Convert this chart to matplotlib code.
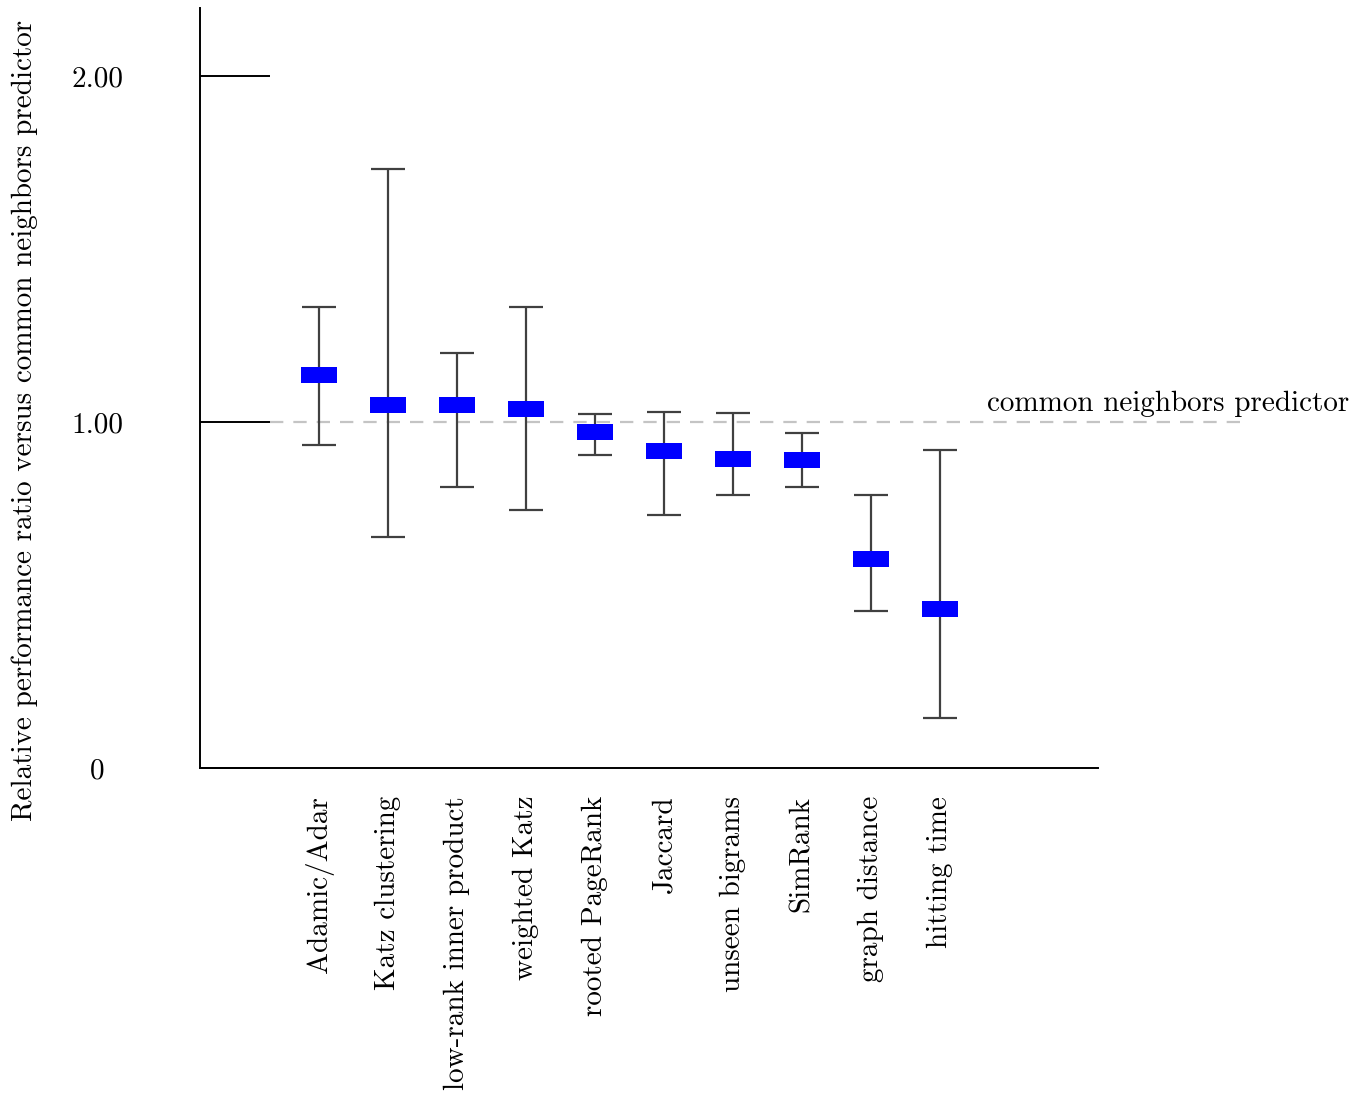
import matplotlib.pyplot as plt
import numpy as np

plt.rcParams['font.family'] = 'cmr10'
plt.rcParams['axes.formatter.use_mathtext'] = True

# ---- data ----
methods = ["Adamic/Adar", "Katz clustering", "low-rank inner product", "weighted Katz",
           "rooted PageRank", "Jaccard", "unseen bigrams", "SimRank",
           "graph distance", "hitting time"]
ratio_mid = [1.136, 1.049, 1.049, 1.038, 0.971, 0.916, 0.893, 0.890, 0.604, 0.460]
ratio_high = [1.332, 1.731, 1.199, 1.332, 1.023, 1.029, 1.026, 0.968, 0.789, 0.919]
ratio_low = [0.934, 0.668, 0.812, 0.746, 0.905, 0.731, 0.789, 0.812, 0.454, 0.145]
baseline = 1.0
baseline_label = "common neighbors predictor"
ylabel = "Relative performance ratio versus common neighbors predictor"

x = np.arange(len(methods))
mid = np.array(ratio_mid)
hi = np.array(ratio_high)
lo = np.array(ratio_low)

fig = plt.figure(figsize=(13.69, 10.96), dpi=100)
ax = fig.add_axes([200/1369, 1 - 768/1096, 898/1369, 760/1096])

# baseline dashed line (extends past the axes)
ax.plot([-0.71, 13.35], [baseline, baseline], color='#c4c4c4', lw=1.6,
        dashes=(6, 4.5), clip_on=False, zorder=1)
ax.text(9.68, baseline + 0.032, baseline_label, fontsize=21, va='baseline', ha='left')

# error bars
ax.errorbar(x, mid, yerr=[mid - lo, hi - mid], fmt='none', ecolor='#404040',
            elinewidth=1.6, capsize=12.5, capthick=1.6, zorder=2)

# blue boxes at the middle value
ax.bar(x, 0.045, bottom=mid - 0.0225, width=0.51, color='#0000ff', zorder=3)

ax.set_xlim(-1.725, 11.29)
ax.set_ylim(0, 2.197)
ax.set_xticks(x)
ax.set_xticklabels(methods, rotation=90, fontsize=21, va='top', ha='center')
ax.tick_params(axis='x', length=0, pad=20)
ax.set_yticks([0, 1, 2])
ax.set_yticklabels(["0", "1.00", "2.00"], fontsize=21)
for lab in ax.get_yticklabels():
    lab.set_ha('center')
ax.tick_params(axis='y', direction='in', length=50.4, width=1.4, pad=74)

for side in ['top', 'right']:
    ax.spines[side].set_visible(False)
for side in ['left', 'bottom']:
    ax.spines[side].set_linewidth(1.4)

fig.text(25/1369, 1 - 420/1096, ylabel, rotation=90, fontsize=21,
         ha='center', va='center')

fig.savefig("out.png", dpi=100)
